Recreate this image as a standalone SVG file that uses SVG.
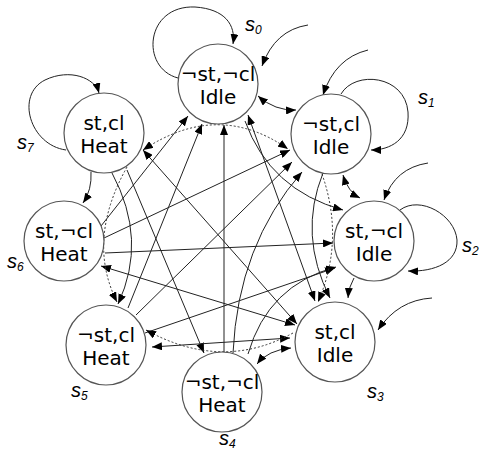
<svg xmlns="http://www.w3.org/2000/svg" width="483" height="452" viewBox="0 0 483 452">
  <defs>
    <marker id="ah" viewBox="0 0 10 8" refX="10" refY="4" markerWidth="10" markerHeight="8" markerUnits="userSpaceOnUse" orient="auto-start-reverse">
      <path d="M0,0 L10,4 L0,8 z" fill="#000"/>
    </marker>
    <style>
      .st { fill: #fff; stroke: #555; stroke-width: 1.2; }
      .nt { font-family: "DejaVu Sans", sans-serif; font-size: 20px; fill: #000; text-anchor: middle; }
      .lb { font-family: "Liberation Sans", Arial, sans-serif; font-style: italic; font-size: 20px; fill: #000; }
      .lb tspan.sub { font-size: 12px; }
      .e { fill: none; stroke: #222; stroke-width: 1; }
      .d { fill: none; stroke: #333; stroke-width: 1; stroke-dasharray: 2 2; }
      .a { marker-end: url(#ah); }
      .b { marker-start: url(#ah); marker-end: url(#ah); }
    </style>
  </defs>

  <rect width="483" height="452" fill="#fff"/>

  <g id="edges">
    <!-- self loops -->
    <path class="e a" d="M178,78 C140,68 145,5 195,7 C225,9 236,25 233,44"/>
    <path class="e a" d="M341,94 C355,70 405,75 408,112 C410,140 390,150 371,150"/>
    <path class="e a" d="M400,210 C420,195 455,215 457,240 C458,262 435,272 408,271"/>
    <path class="e a" d="M66,150 C30,145 15,95 45,80 C70,68 95,78 99,93"/>

    <!-- entry arrows -->
    <path class="e a" d="M308,25 Q275,30 262,66"/>
    <path class="e a" d="M368,50 Q335,58 323,95"/>
    <path class="e a" d="M428,163 Q395,168 384,200"/>
    <path class="e a" d="M432,298 Q398,300 378,330"/>

    <!-- neighbouring states -->
    <path class="e b" d="M258,96 Q275,111 296,110"/>
    <path class="e b" d="M343,175 Q348,192 360,198"/>
    <path class="e a" d="M354,278 Q349,286 348,298"/>
    <path class="e b" d="M291,348 Q268,350 257,364"/>
    <path class="e a" d="M91,172 Q92,190 83,203"/>

    <!-- two-step arcs -->
    <path class="e a" d="M245,121 Q270,190 343,210"/>
    <path class="e a" d="M323,173 Q298,235 330,298"/>
    <path class="e a" d="M112,173 Q148,240 118,304"/>
    <path class="e a" d="M233,353 Q238,245 302,172"/>
    <path class="e a" d="M248,354 Q268,285 336,267"/>

    <!-- long transitions -->
    <path class="e a" d="M224,352 L224,125"/>
    <path class="e a" d="M101,226 L188,116"/>
    <path class="e a" d="M128,308 L202,124"/>
    <path class="e b" d="M315,301 L248,115"/>
    <path class="e b" d="M143,150 L297,324"/>
    <path class="e a" d="M127,170 L204,353"/>
    <path class="e a" d="M104,238 L290,150"/>
    <path class="e a" d="M105,253 L333,243"/>
    <path class="e a" d="M145,333 L335,268"/>
    <path class="e a" d="M136,315 L292,162"/>
    <path class="e b" d="M295,325 L101,266"/>
    <path class="e b" d="M290,338 L152,347"/>

    <!-- dotted transitions -->
    <path class="d b" d="M143,150 Q218,100 288,149"/>
    <path class="d a" d="M322,174 Q345,240 318,302"/>
    <path class="d a" d="M293,333 Q222,372 146,330"/>
    <path class="d a" d="M127,167 Q86,240 117,302"/>
  </g>

  <g id="s0">
    <circle class="st" cx="218" cy="84" r="40"/>
    <text class="nt" x="218" y="81">¬st,¬cl</text>
    <text class="nt" x="218" y="104">Idle</text>
  </g>
  <g id="s1">
    <circle class="st" cx="331" cy="134" r="40"/>
    <text class="nt" x="331" y="131">¬st,cl</text>
    <text class="nt" x="331" y="154">Idle</text>
  </g>
  <g id="s2">
    <circle class="st" cx="374" cy="241" r="40"/>
    <text class="nt" x="374" y="238">st,¬cl</text>
    <text class="nt" x="374" y="261">Idle</text>
  </g>
  <g id="s3">
    <circle class="st" cx="335" cy="342" r="40"/>
    <text class="nt" x="335" y="339">st,cl</text>
    <text class="nt" x="335" y="362">Idle</text>
  </g>
  <g id="s4">
    <circle class="st" cx="222" cy="392" r="40"/>
    <text class="nt" x="222" y="389">¬st,¬cl</text>
    <text class="nt" x="222" y="412">Heat</text>
  </g>
  <g id="s5">
    <circle class="st" cx="106" cy="345" r="40"/>
    <text class="nt" x="106" y="342">¬st,cl</text>
    <text class="nt" x="106" y="365">Heat</text>
  </g>
  <g id="s6">
    <circle class="st" cx="64" cy="241" r="40"/>
    <text class="nt" x="64" y="238">st,¬cl</text>
    <text class="nt" x="64" y="261">Heat</text>
  </g>
  <g id="s7">
    <circle class="st" cx="104" cy="133" r="40"/>
    <text class="nt" x="104" y="130">st,cl</text>
    <text class="nt" x="104" y="153">Heat</text>
  </g>

  <g id="labels">
    <text class="lb" x="245" y="31">s<tspan class="sub" dy="3">0</tspan></text>
    <text class="lb" x="418" y="104">s<tspan class="sub" dy="3">1</tspan></text>
    <text class="lb" x="462" y="252">s<tspan class="sub" dy="3">2</tspan></text>
    <text class="lb" x="367" y="398">s<tspan class="sub" dy="3">3</tspan></text>
    <text class="lb" x="219" y="445">s<tspan class="sub" dy="3">4</tspan></text>
    <text class="lb" x="71" y="397">s<tspan class="sub" dy="3">5</tspan></text>
    <text class="lb" x="7" y="268">s<tspan class="sub" dy="3">6</tspan></text>
    <text class="lb" x="17" y="149">s<tspan class="sub" dy="3">7</tspan></text>
  </g>
</svg>
